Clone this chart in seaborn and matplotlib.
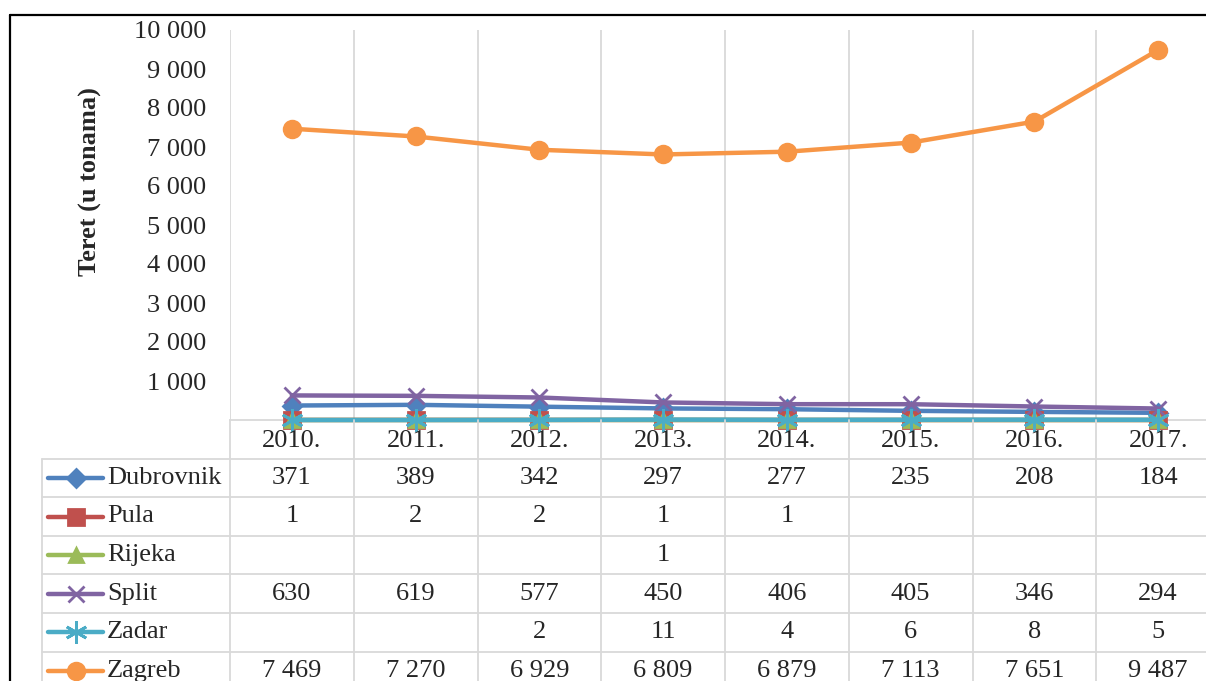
import numpy as np
import pandas as pd
import matplotlib
matplotlib.use("Agg")
import matplotlib.pyplot as plt
from matplotlib.lines import Line2D
import seaborn as sns

# data (None = empty cell in the data table)
years = ["2010.", "2011.", "2012.", "2013.", "2014.", "2015.", "2016.", "2017."]
cities = ["Dubrovnik", "Pula", "Rijeka", "Split", "Zadar", "Zagreb"]
dubrovnik = [371, 389, 342, 297, 277, 235, 208, 184]
pula = [1, 2, 2, 1, 1, None, None, None]
rijeka = [None, None, None, 1, None, None, None, None]
split = [630, 619, 577, 450, 406, 405, 346, 294]
zadar = [None, None, 2, 11, 4, 6, 8, 5]
zagreb = [7469, 7270, 6929, 6809, 6879, 7113, 7651, 9487]
yticks = [1000, 2000, 3000, 4000, 5000, 6000, 7000, 8000, 9000, 10000]

series = dict(zip(cities, [dubrovnik, pula, rijeka, split, zadar, zagreb]))

colors = {"Dubrovnik": "#4F81BD", "Pula": "#C0504D", "Rijeka": "#9BBB59",
          "Split": "#8064A2", "Zadar": "#4BACC6", "Zagreb": "#F79646"}
markers = {"Dubrovnik": "D", "Pula": "s", "Rijeka": "^",
           "Split": "x", "Zadar": (6, 2, 0), "Zagreb": "o"}
msizes = {"Dubrovnik": 9, "Pula": 11, "Rijeka": 10, "Split": 11, "Zadar": 16, "Zagreb": 12}

rows = []
for c in cities:
    for i, v in enumerate(series[c]):
        # blank cells are drawn at zero, as in the original
        rows.append({"pos": i, "city": c, "value": 0 if v is None else v})
df = pd.DataFrame(rows)

sns.set_style("white")
plt.rcParams["font.family"] = ["Liberation Serif", "DejaVu Serif"]
FS = 19
GRID = "#d9d9d9"

W, H = 1206, 681
fig = plt.figure(figsize=(W / 100, H / 100), dpi=100)

def fx(px):
    return px / W

def fy(py):
    return (H - py) / H

# ---- line chart ----
left_px, right_px, top_px, base_px = 230, 1220, 30, 420
ax = fig.add_axes([fx(left_px), fy(base_px), fx(right_px - left_px), (base_px - top_px) / H])
for c in cities:
    d = df[df["city"] == c]
    sns.lineplot(data=d, x="pos", y="value", ax=ax, color=colors[c], lw=3.2,
                 marker=markers[c], markersize=msizes[c], markeredgewidth=2,
                 markeredgecolor=colors[c], legend=False, clip_on=False)
ax.set_xlim(-0.5, 7.5)
ax.set_ylim(0, 10000)
for k in range(9):
    ax.axvline(k - 0.5, color=GRID, lw=1.3, zorder=0)
ax.set_xticks([])
ax.set_yticks(yticks)
ax.set_yticklabels([f"{v:,}".replace(",", " ") for v in yticks], fontsize=FS)
ax.tick_params(axis="y", length=0, pad=17)
for s in ["top", "right", "left"]:
    ax.spines[s].set_visible(False)
ax.spines["bottom"].set_color(GRID)
ax.spines["bottom"].set_linewidth(1.3)
ax.spines["bottom"].set_zorder(0)
ax.set_xlabel("")
ax.set_ylabel("")
ax.patch.set_alpha(0)

fig.text(fx(90), fy(182), "Teret (u tonama)", rotation=90, ha="center", va="center",
         fontsize=FS, fontweight="bold")

# ---- data table ----
cw = (right_px - left_px) / 8
tab_left = -0.5 - (left_px - 42) / cw
row_h = 38.6
nrows = 7
tax = fig.add_axes([fx(42), fy(base_px + nrows * row_h), fx(right_px - 42), nrows * row_h / H])
tax.set_xlim(tab_left, 7.5)
tax.set_ylim(nrows, 0)
tax.axis("off")

for r in range(1, nrows + 1):
    tax.plot([tab_left, 7.5], [r, r], color=GRID, lw=1.3, clip_on=False)
for k in range(9):
    tax.plot([k - 0.5, k - 0.5], [0, nrows], color=GRID, lw=1.3, clip_on=False)
tax.plot([tab_left, tab_left], [1, nrows], color=GRID, lw=1.3, clip_on=False)

for i, y in enumerate(years):
    tax.text(i, 0.55, y, ha="center", va="center", fontsize=FS)

x0 = tab_left + 6 / cw
x1 = tab_left + 61 / cw
for r, c in enumerate(cities, start=1):
    tax.add_line(Line2D([x0, x1], [r + 0.5, r + 0.5], color=colors[c], lw=3.2))
    tax.plot([(x0 + x1) / 2], [r + 0.5], marker=markers[c], color=colors[c],
             markersize=msizes[c], markeredgewidth=2, markeredgecolor=colors[c])
    tax.text(tab_left + 65 / cw, r + 0.5, c, ha="left", va="center", fontsize=FS)
    for i, v in enumerate(series[c]):
        if v is not None:
            tax.text(i, r + 0.5, f"{v:,}".replace(",", " "), ha="center",
                     va="center", fontsize=FS)

# outer chart border
fig.add_artist(Line2D([fx(10), fx(10)], [fy(15), 0], color="black", lw=1.6))
fig.add_artist(Line2D([fx(10), 1], [fy(15), fy(15)], color="black", lw=1.6))

fig.savefig("out.png", dpi=100)
